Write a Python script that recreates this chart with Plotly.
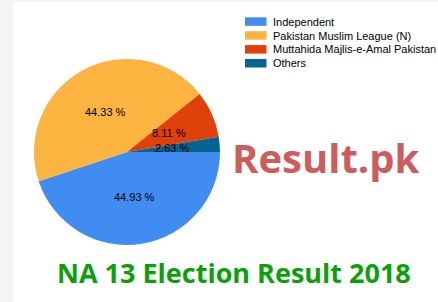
import math
import plotly.graph_objects as go

# ---- data ----
parties = ["Independent", "Pakistan Muslim League (N)", "Muttahida Majlis-e-Amal Pakistan", "Others"]
shares = [44.93, 44.33, 8.11, 2.63]
colors = ["#418CF0", "#FCB441", "#E0400A", "#056492"]
title_text = "NA 13 Election Result 2018"
brand_text = "Result.pk"

W, H = 438, 302
def px(x):
    return x / W
def py(y):
    return 1 - y / H

# pie geometry (pixels)
cx, cy, R = 127, 152, 93

fig = go.Figure()
fig.add_trace(go.Pie(
    labels=parties, values=shares, sort=False, direction="clockwise", rotation=90,
    marker=dict(colors=colors, line=dict(width=0)),
    textinfo="none", hoverinfo="none", showlegend=False,
    domain=dict(x=[px(cx - R), px(cx + R)], y=[py(cy + R), py(cy - R)]),
))

annotations = []
shapes = []

# slice labels at half radius, from cumulative shares
total = sum(shares)
cum = 0.0
for v in shares:
    mid = (cum + v / 2) / total * 2 * math.pi
    cum += v
    lx = cx + 0.49 * R * math.cos(mid)
    ly = cy + 0.49 * R * math.sin(mid)
    annotations.append(dict(
        x=px(lx), y=py(ly), xref="paper", yref="paper", showarrow=False,
        text=f"{v:.2f} %", xanchor="center", yanchor="middle",
        font=dict(family="Liberation Sans, Arial, sans-serif", size=11, color="#000000"),
    ))

# custom legend
for i, (name, c) in enumerate(zip(parties, colors)):
    top = 17.3 + i * 13.9
    shapes.append(dict(type="rect", xref="paper", yref="paper",
                       x0=px(245), x1=px(266.5), y0=py(top + 8.5), y1=py(top),
                       fillcolor=c, line=dict(width=0)))
    annotations.append(dict(
        x=px(271), y=py(top + 4.3), xref="paper", yref="paper", showarrow=False,
        text=name, xanchor="left", yanchor="middle",
        font=dict(family="Liberation Sans, Arial, sans-serif", size=11, color="#000000"),
    ))

# gray frame strips
shapes.append(dict(type="rect", xref="paper", yref="paper", x0=0, x1=px(13), y0=0, y1=1,
                   fillcolor="#F4F4F4", line=dict(width=0), layer="below"))
shapes.append(dict(type="rect", xref="paper", yref="paper", x0=0, x1=1, y0=py(2), y1=1,
                   fillcolor="#F4F4F4", line=dict(width=0), layer="below"))

# brand text
annotations.append(dict(
    x=px(326), y=py(157), xref="paper", yref="paper", showarrow=False,
    text=f"<b>{brand_text}</b>", xanchor="center", yanchor="middle",
    font=dict(family="Open Sans, sans-serif", size=40, color="#CD5C5C"),
))
# title text
annotations.append(dict(
    x=px(234), y=py(272), xref="paper", yref="paper", showarrow=False,
    text=f"<b>{title_text}</b>", xanchor="center", yanchor="middle",
    font=dict(family="Open Sans, sans-serif", size=27, color="#0AA00A"),
))

fig.update_layout(
    width=W, height=H, margin=dict(l=0, r=0, t=0, b=0),
    paper_bgcolor="#FFFFFF", plot_bgcolor="#FFFFFF",
    annotations=annotations, shapes=shapes,
)

fig.write_html("out.html", config={"displayModeBar": False})
